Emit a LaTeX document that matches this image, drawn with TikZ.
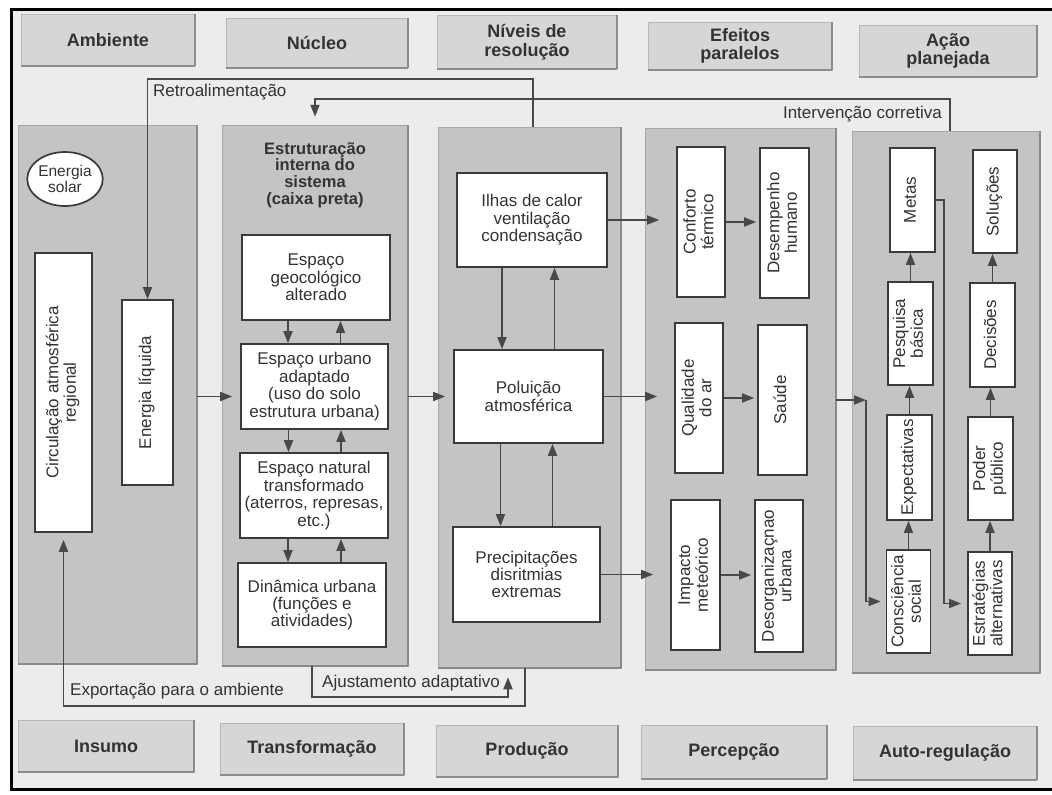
\documentclass[tikz,border=0pt]{standalone}
\usepackage{fontspec}
\setmainfont{Liberation Sans}
\usepackage{graphicx}
\usetikzlibrary{arrows.meta,calc,shapes.geometric}
\definecolor{bgc}{HTML}{ECECEC}
\definecolor{panelc}{HTML}{C4C4C4}
\definecolor{panele}{HTML}{8A8A8A}
\definecolor{hdrc}{HTML}{D6D6D6}
\definecolor{hdre}{HTML}{8C8C8C}
\definecolor{linec}{HTML}{484848}
\definecolor{boxe}{HTML}{3A3A3A}
\definecolor{txtc}{HTML}{333333}
\newcommand{\fsbody}{\fontsize{17}{17.4}\selectfont}
\newcommand{\fssmall}{\fontsize{15.5}{16.5}\selectfont}
\newcommand{\fshead}{\fontsize{18}{18.6}\selectfont\bfseries}
\newcommand{\fstitle}{\fontsize{16.5}{16.8}\selectfont\bfseries}
\newcommand{\vtx}[1]{\rotatebox{90}{\begin{tabular}{@{}c@{}}#1\end{tabular}}}
\begin{document}
\begin{tikzpicture}[x=1pt,y=-1pt,
  every node/.style={text=txtc},
  hedge/.style={draw=hdre, line width=2.4pt},
  pedge/.style={draw=panele, line width=2pt},
  hbox/.style={fill=hdrc, draw=hdrc!85!black, line width=0.5pt, font=\fshead, align=center, inner sep=0pt,
    append after command={(\tikzlastnode.north east) edge[hedge] (\tikzlastnode.south east)
      (\tikzlastnode.south east) edge[hedge] (\tikzlastnode.south west)}},
  panel/.style={fill=panelc, draw=panelc!85!black, line width=0.5pt, inner sep=0pt,
    append after command={(\tikzlastnode.north east) edge[pedge] (\tikzlastnode.south east)
      (\tikzlastnode.south east) edge[pedge] (\tikzlastnode.south west)}},
  wbox/.style={draw=boxe, fill=white, line width=1.7pt, font=\fsbody, align=center, inner sep=0pt},
  arr/.style={draw=linec, line width=1.8pt, -{Triangle[length=12pt,width=9pt]}},
  lbl/.style={font=\fsbody, inner sep=0pt},
]
\useasboundingbox (0,0) rectangle (1052,795);
\fill[white] (0,0) rectangle (1052,795);
\fill[bgc] (11,9) rectangle (1052,789);

% panels
\node[panel, minimum width=179pt, minimum height=539pt] (P1) at (107.5,394.5) {};
\node[panel, minimum width=186pt, minimum height=541pt] (P2) at (315,395.5) {};
\node[panel, minimum width=183pt, minimum height=541pt] (P3) at (529.5,397.5) {};
\node[panel, minimum width=191pt, minimum height=542pt] (P4) at (740.5,399) {};
\node[panel, minimum width=188pt, minimum height=542pt] (P5) at (946,402) {};

% headers
\node[hbox, minimum width=173pt, minimum height=51pt] (hA) at (108,40) {Ambiente};
\node[hbox, minimum width=181pt, minimum height=50pt] (hN) at (317,43) {Núcleo};
\node[hbox, minimum width=180pt, minimum height=53pt] (hR) at (527,42) {Níveis de\\resolução};
\node[hbox, minimum width=184pt, minimum height=48pt] (hE) at (740,46) {Efeitos\\paralelos};
\node[hbox, minimum width=177pt, minimum height=52pt] (hP) at (948,51) {Ação\\planejada};

\node[hbox, minimum width=176pt, minimum height=52pt] (bI) at (106,746) {Insumo};
\node[hbox, minimum width=184pt, minimum height=52pt] (bT) at (312,749) {Transformação};
\node[hbox, minimum width=182pt, minimum height=52pt] (bP) at (527,751) {Produção};
\node[hbox, minimum width=185pt, minimum height=53pt] (bC) at (734,752) {Percepção};
\node[hbox, minimum width=184pt, minimum height=53pt] (bR) at (945,753) {Auto-regulação};

% column 1
\node[wbox, ellipse, font=\fssmall, minimum width=72pt, minimum height=54pt] (solar) at (65,179) {Energia\\solar};
\node[wbox, minimum width=57pt, minimum height=279pt] (circ) at (63.5,392.5) {\vtx{Circulação atmosférica\\regional}};
\node[wbox, minimum width=51pt, minimum height=185pt] (eliq) at (147.5,392.5) {\vtx{Energia líquida}};

% column 2
\node[font=\fstitle, align=center, inner sep=0pt] (tit) at (315,175) {Estruturação\\interna do\\sistema\\(caixa preta)};
\node[wbox, minimum width=148pt, minimum height=85pt] (geo) at (316,277.5) {Espaço\\geocológico\\alterado};
\node[wbox, minimum width=147pt, minimum height=85pt] (urb) at (314.5,386.5) {Espaço urbano\\adaptado\\(uso do solo\\estrutura urbana)};
\node[wbox, minimum width=148pt, minimum height=85pt] (nat) at (314,495.5) {Espaço natural\\transformado\\(aterros, represas,\\etc.)};
\node[wbox, minimum width=148pt, minimum height=84pt] (din) at (312,605) {Dinâmica urbana\\(funções e\\atividades)};

% column 3
\node[wbox, minimum width=150pt, minimum height=94pt] (ilhas) at (532,220) {Ilhas de calor\\ventilação\\condensação};
\node[wbox, minimum width=149pt, minimum height=93pt] (poll) at (528.5,396.5) {Poluição\\atmosférica};
\node[wbox, minimum width=147pt, minimum height=95pt] (prec) at (526.5,574.5) {Precipitações\\disritmias\\extremas};

% column 4
\node[wbox, minimum width=48pt, minimum height=150pt] (conf) at (701,222) {\vtx{Conforto\\térmico}};
\node[wbox, minimum width=49pt, minimum height=150pt] (dese) at (784.5,223) {\vtx{Desempenho\\humano}};
\node[wbox, minimum width=48pt, minimum height=150pt] (qual) at (699,398) {\vtx{Qualidade\\do ar}};
\node[wbox, minimum width=49pt, minimum height=150pt] (saude) at (782.5,400) {\vtx{Saúde}};
\node[wbox, minimum width=49pt, minimum height=150pt] (imp) at (695.5,575) {\vtx{Impacto\\meteórico}};
\node[wbox, minimum width=48pt, minimum height=152pt] (deso) at (779,576) {\vtx{Desorganizaçnao\\urbana}};

% column 5
\node[wbox, minimum width=45pt, minimum height=104pt] (metas) at (912.5,200) {\vtx{Metas}};
\node[wbox, minimum width=44pt, minimum height=103pt] (sol) at (995,201.5) {\vtx{Soluções}};
\node[wbox, minimum width=45pt, minimum height=103pt] (pesq) at (910.5,333.5) {\vtx{Pesquisa\\básica}};
\node[wbox, minimum width=45pt, minimum height=104pt] (deci) at (992.5,335) {\vtx{Decisões}};
\node[wbox, minimum width=45pt, minimum height=105pt] (expe) at (909.5,467.5) {\vtx{Expectativas}};
\node[wbox, minimum width=45pt, minimum height=103pt] (poder) at (990.5,468.5) {\vtx{Poder\\público}};
\node[wbox, minimum width=44pt, minimum height=103pt] (cons) at (908.5,601.5) {\vtx{Consciência\\social}};
\node[wbox, minimum width=44pt, minimum height=103pt] (estr) at (990,603.5) {\vtx{Estratégias\\alternativas}};

% column-to-column arrows
\draw[arr, shorten >=8pt] (P1.east |- poll) -- (urb.west |- poll);
\draw[arr, shorten >=8pt] (P2.east |- poll) -- (poll.west);
\draw[arr, shorten >=17pt] (ilhas.east) -- (conf.west |- ilhas.east);
\draw[arr, shorten >=17pt] (poll.east) -- (qual.west |- poll.east);
\draw[arr, shorten >=17pt] (prec.east) -- (imp.west |- prec.east);

% column 2 internal
\draw[arr] ([xshift=-28pt]geo.south) -- ([xshift=-28pt]geo.south |- urb.north);
\draw[arr] ([xshift=26pt]urb.north) -- ([xshift=26pt]urb.north |- geo.south);
\draw[arr] ([xshift=-26pt]urb.south) -- ([xshift=-26pt]urb.south |- nat.north);
\draw[arr] ([xshift=27pt]nat.north) -- ([xshift=27pt]nat.north |- urb.south);
\draw[arr] ([xshift=-26pt]nat.south) -- ([xshift=-26pt]nat.south |- din.north);
\draw[arr] ([xshift=29pt]din.north) -- ([xshift=29pt]din.north |- nat.south);

% column 3 internal
\draw[arr] ([xshift=-30pt]ilhas.south) -- ([xshift=-30pt]ilhas.south |- poll.north);
\draw[arr] ([xshift=26pt]poll.north) -- ([xshift=26pt]poll.north |- ilhas.south);
\draw[arr] ([xshift=-28pt]poll.south) -- ([xshift=-28pt]poll.south |- prec.north);
\draw[arr] ([xshift=26pt]prec.north) -- ([xshift=26pt]prec.north |- poll.south);

% column 4 internal
\draw[arr, shorten >=3pt] (conf.east) -- (dese.west |- conf.east);
\draw[arr, shorten >=3pt] (qual.east) -- (saude.west |- qual.east);
\draw[arr, shorten >=3pt] (imp.east) -- (deso.west |- imp.east);

% column 4 -> column 5
\coordinate (c45) at (866,400);
\draw[arr] (P4.east |- c45) -- (c45);
\draw[arr, shorten >=5pt] (c45) |- (cons.west);
\coordinate (m5) at (944,200);
\draw[arr, shorten >=6pt] (metas.east) -- (metas.east -| m5) |- (estr.west);

% column 5 internal
\draw[arr] (cons.north) -- (cons.north |- expe.south);
\draw[arr] (expe.north) -- (expe.north |- pesq.south);
\draw[arr] (pesq.north) -- (pesq.north |- metas.south);
\draw[arr] (estr.north) -- (estr.north |- poder.south);
\draw[arr] (poder.north) -- (poder.north |- deci.south);
\draw[arr] (deci.north) -- (deci.north |- sol.south);

% feedback loops
\coordinate (rtA) at (533,79);
\draw[arr] (rtA |- P3.north) -- (rtA) -| (eliq.north);
\node[lbl, anchor=west] (rtl) at (153,92) {Retroalimentação};
\coordinate (ivA) at (950,99);
\draw[arr, shorten >=8pt] (ivA |- P5.north) -- (ivA) -| (P2.north);
\node[lbl, anchor=east] (ivl) at (942,114) {Intervenção corretiva};

\coordinate (ajA) at (312,697);
\coordinate (ajB) at (508,697);
\draw[arr, shorten >=9pt] (ajA |- P2.south) -- (ajA) -- (ajB) -- (ajB |- P3.south);
\node[lbl, anchor=west] (ajl) at (322,683) {Ajustamento adaptativo};
\coordinate (exA) at (525,706);
\draw[arr, shorten >=7pt] (exA |- P3.south) -- (exA) -| (circ.south);
\node[lbl, anchor=west] (exl) at (70,691) {Exportação para o ambiente};

% outer frame
\draw[black, line width=3pt] (1052,9) -- (11,9) -- (11,789) -- (1052,789);
\end{tikzpicture}
\end{document}
